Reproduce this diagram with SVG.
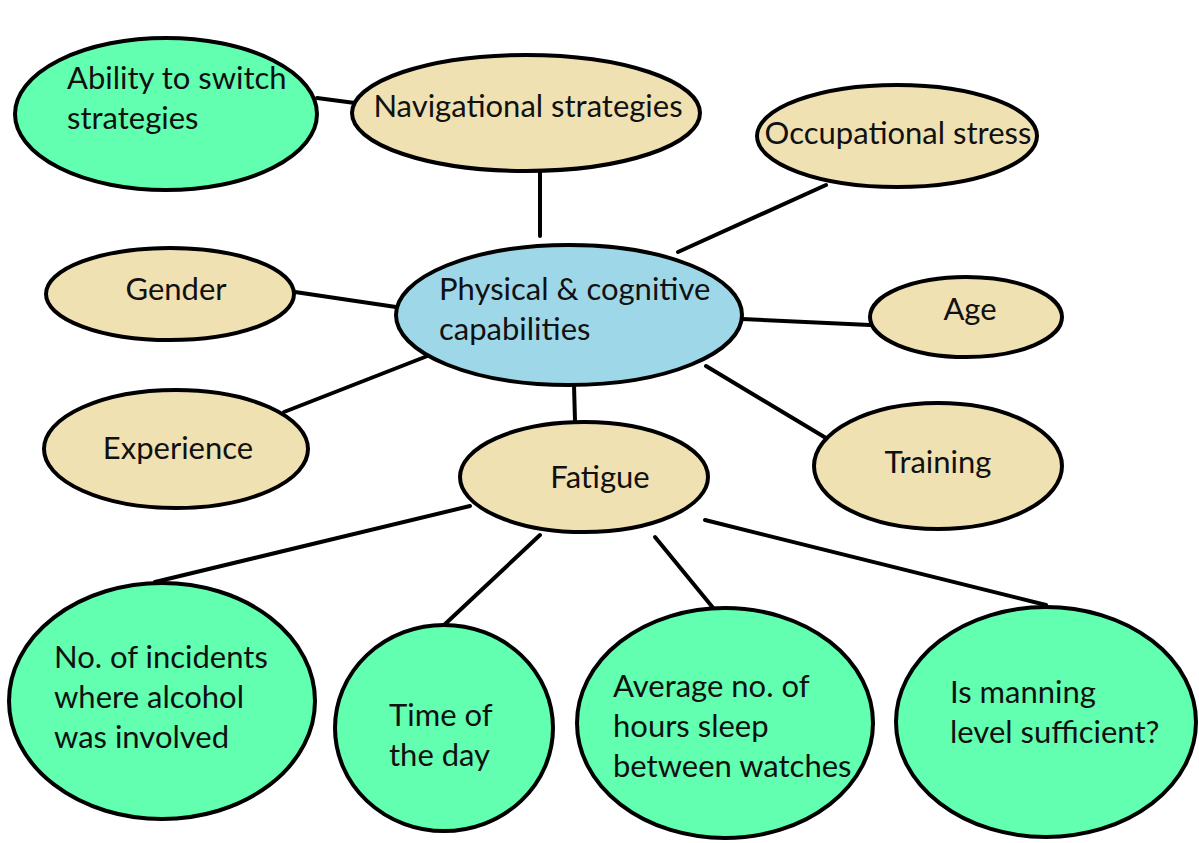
<svg xmlns="http://www.w3.org/2000/svg" width="1199" height="843" viewBox="0 0 1199 843">
<style>
.n{stroke:#000;stroke-width:4}
.g{fill:#62ffb0}
.t{fill:#efe1b2}
.b{fill:#9ed8e8}
text{font-family:Lato,"Liberation Sans",sans-serif;font-size:31px;fill:#111}
.e line{stroke:#000;stroke-width:4;stroke-linecap:round}
</style>
<rect width="1199" height="843" fill="#fff"/>
<g class="e" id="connectors">
<line x1="317" y1="98" x2="355" y2="103"/>
<line x1="540" y1="172" x2="540" y2="236"/>
<line x1="826" y1="185" x2="678" y2="252"/>
<line x1="295" y1="292" x2="396" y2="307"/>
<line x1="742" y1="319" x2="870" y2="325"/>
<line x1="284" y1="412" x2="430" y2="355"/>
<line x1="706" y1="366" x2="826" y2="438"/>
<line x1="574" y1="385" x2="575" y2="421"/>
<line x1="470" y1="506" x2="155" y2="582"/>
<line x1="540" y1="535" x2="443" y2="626"/>
<line x1="655" y1="537" x2="714" y2="609"/>
<line x1="705" y1="520" x2="1046" y2="605"/>
</g>
<g id="ability"><ellipse class="n g" cx="166" cy="114" rx="151" ry="76"/><text x="67" y="89">Ability to switch</text><text x="67" y="129">strategies</text></g>
<g id="navigational"><ellipse class="n t" cx="526" cy="113" rx="174" ry="58"/><text x="528" y="117" text-anchor="middle">Navigational strategies</text></g>
<g id="occupational"><ellipse class="n t" cx="897" cy="136" rx="140" ry="51"/><text x="898" y="144" text-anchor="middle">Occupational stress</text></g>
<g id="center"><ellipse class="n b" cx="569" cy="315" rx="173" ry="70"/><text x="439" y="300">Physical &amp; cognitive</text><text x="439" y="340">capabilities</text></g>
<g id="gender"><ellipse class="n t" cx="170" cy="294" rx="124" ry="46"/><text x="176" y="300" text-anchor="middle">Gender</text></g>
<g id="age"><ellipse class="n t" cx="966" cy="317" rx="96" ry="40"/><text x="970" y="320" text-anchor="middle">Age</text></g>
<g id="experience"><ellipse class="n t" cx="176" cy="449" rx="132" ry="59"/><text x="178" y="459" text-anchor="middle">Experience</text></g>
<g id="fatigue"><ellipse class="n t" cx="584" cy="477" rx="124" ry="55"/><text x="600" y="488" text-anchor="middle">Fatigue</text></g>
<g id="training"><ellipse class="n t" cx="938" cy="466" rx="124" ry="63"/><text x="938" y="473" text-anchor="middle">Training</text></g>
<g id="incidents"><ellipse class="n g" cx="162" cy="701" rx="153" ry="118"/><text x="54" y="668">No. of incidents</text><text x="54" y="708">where alcohol</text><text x="54" y="748">was involved</text></g>
<g id="time"><ellipse class="n g" cx="444" cy="728" rx="109" ry="103"/><text x="389" y="726">Time of</text><text x="389" y="766">the day</text></g>
<g id="sleep"><ellipse class="n g" cx="725" cy="723" rx="148" ry="115"/><text x="613" y="697">Average no. of</text><text x="613" y="737">hours sleep</text><text x="613" y="777">between watches</text></g>
<g id="manning"><ellipse class="n g" cx="1046" cy="722" rx="150" ry="115"/><text x="950" y="703">Is manning</text><text x="950" y="743">level sufficient?</text></g>
</svg>
